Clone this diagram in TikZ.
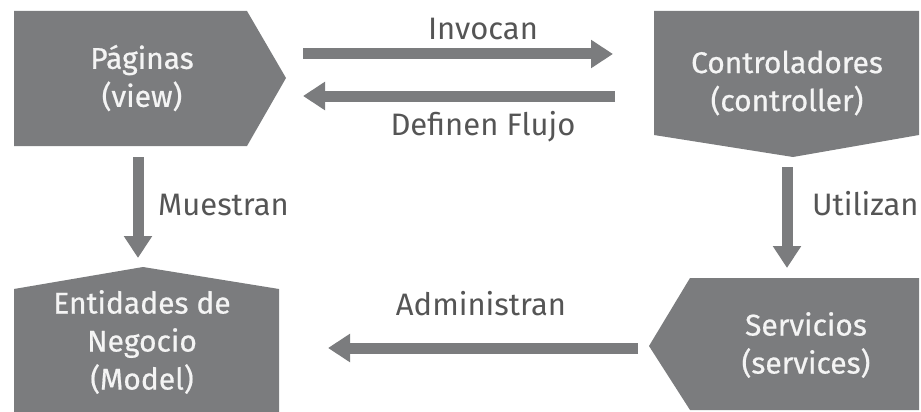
\documentclass[tikz,border=0pt]{standalone}
\usepackage{fontspec}
\setmainfont{Fira Sans}
\newfontfamily\boxfont[FakeBold=0.6]{Fira Sans}
\usetikzlibrary{arrows.meta}
\definecolor{boxgray}{RGB}{123,124,126}
\definecolor{lblgray}{RGB}{85,85,85}
\definecolor{boxtxt}{RGB}{244,244,244}
\begin{document}
\begin{tikzpicture}[x=1pt,y=-1pt,
  shapefill/.style={fill=boxgray},
  boxtext/.style={text=boxtxt, font=\boxfont\fontsize{30}{38}\selectfont, align=center, inner sep=0pt},
  lbl/.style={text=lblgray, font=\fontsize{31}{37}\selectfont, inner sep=0pt},
  flow/.style={draw=boxgray, line width=11pt, -{Triangle[width=27pt,length=22pt]}}]
\useasboundingbox (0,0) rectangle (921,412);
% shapes
\fill[shapefill] (14,11) -- (247,11) -- (286,78) -- (247,146) -- (14,146) -- cycle;
\fill[shapefill] (654,11) -- (919,11) -- (919,135) -- (793,157) -- (654,135) -- cycle;
\fill[shapefill] (14,289) -- (143,267) -- (279,289) -- (279,412) -- (14,412) -- cycle;
\fill[shapefill] (649,346) -- (690,278) -- (919,278) -- (919,410) -- (690,410) -- cycle;
% box texts
\node[boxtext] (pag) at (142,78) {Páginas\\(view)};
\node[boxtext] (ctl) at (787,83) {Controladores\\(controller)};
\node[boxtext] (ent) at (142,342) {Entidades de\\Negocio\\(Model)};
\node[boxtext] (srv) at (806,345) {Servicios\\(services)};
% connector end points
\coordinate (invA) at (303,54);
\coordinate (invB) at (613,54);
\coordinate (defA) at (615,96);
\coordinate (defB) at (303,96);
\coordinate (musA) at (138,157);
\coordinate (musB) at (138,258);
\coordinate (utiA) at (787,167);
\coordinate (utiB) at (787,268);
\coordinate (admA) at (638,348);
\coordinate (admB) at (328,348);
% connectors
\draw[flow] (invA) -- (invB);
\draw[flow] (defA) -- (defB);
\draw[flow] (musA) -- (musB);
\draw[flow] (utiA) -- (utiB);
\draw[flow] (admA) -- (admB);
% labels
\node[lbl, anchor=base] (linv) at (483,40) {Invocan};
\node[lbl, anchor=base] (ldef) at (483,135) {Definen Flujo};
\node[lbl, anchor=base west] (lmus) at (158,215) {Muestran};
\node[lbl, anchor=base west] (luti) at (812,215) {Utilizan};
\node[lbl, anchor=base] (ladm) at (481,315) {Administran};
\end{tikzpicture}
\end{document}
